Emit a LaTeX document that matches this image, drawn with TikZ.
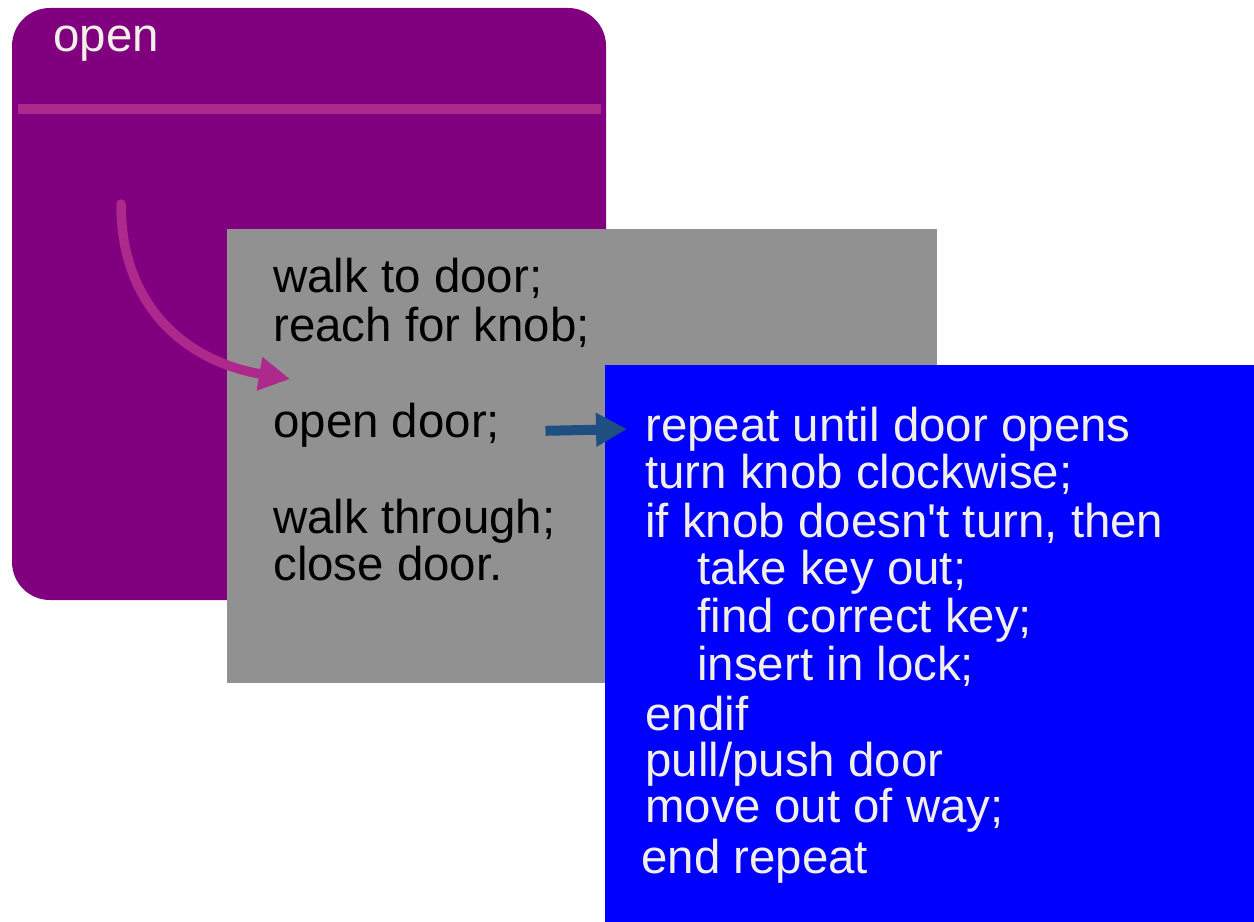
\documentclass[tikz,border=0pt]{standalone}
\usepackage{fontspec}
\setmainfont{Liberation Sans}
\usepackage{xcolor}
\usepackage{tikz}
\usetikzlibrary{arrows.meta}
\definecolor{plum}{HTML}{800080}
\definecolor{orchid}{HTML}{AD2A8C}
\definecolor{slate}{HTML}{919191}
\definecolor{pureblue}{HTML}{0000FF}
\definecolor{steel}{HTML}{1F4E80}
\definecolor{cream}{HTML}{F2EFE6}
\tikzset{codeline/.style={anchor=base west,inner sep=0pt,font=\fontsize{27}{27}\selectfont}}

\begin{document}
\begin{tikzpicture}[x=0.02cm,y=-0.02cm]
  \useasboundingbox (0,0) rectangle (1254,922);
  % panels, back to front
  \fill[plum,rounded corners=0.76cm] (12,8) rectangle (606,600);
  \draw[orchid,line width=0.2cm] (18,109.5) -- (601,109.5);
  \node[codeline,text=cream] (title) at (53,52) {open};
  \fill[slate] (227,229) rectangle (937,683);
  \fill[pureblue] (605,365) rectangle (1254,922);
  % outline steps
  \foreach \n/\t/\y in {walk/{walk to door;}/293,reach/{reach for knob;}/341,opendoor/{open door;}/437,through/{walk through;}/533,close/{close door.}/580}
    \node[codeline,text=black] (\n) at (273,\y) {\t};
  % refinement of open door
  \foreach \t/\x/\y [count=\i] in {{repeat until door opens}/645/441,{turn knob clockwise;}/645/488,{if knob doesn\textquotesingle t turn, then}/645/537,{take key out;}/697/584,{find correct key;}/697/632,{insert in lock;}/697/680,{endif}/645/730,{pull/push door}/645/776,{move out of way;}/645/822,{end repeat}/641/873}
    \node[codeline,text=cream] (b\i) at (\x,\y) {\t};
  \coordinate (curl) at (121,204);
  \coordinate (land) at (290,379);
  \draw[orchid,line width=0.19cm,line cap=round,-{Triangle[length=0.62cm,width=0.64cm]}] (curl) .. controls (121,310) and (190,362) .. (land);
  \draw[steel,line width=0.2cm,shorten <=0.9cm,shorten >=0.36cm,-{Triangle[length=0.62cm,width=0.64cm]}] ([yshift=-0.14cm]opendoor.east) -- (b1.west);
\end{tikzpicture}
\end{document}
